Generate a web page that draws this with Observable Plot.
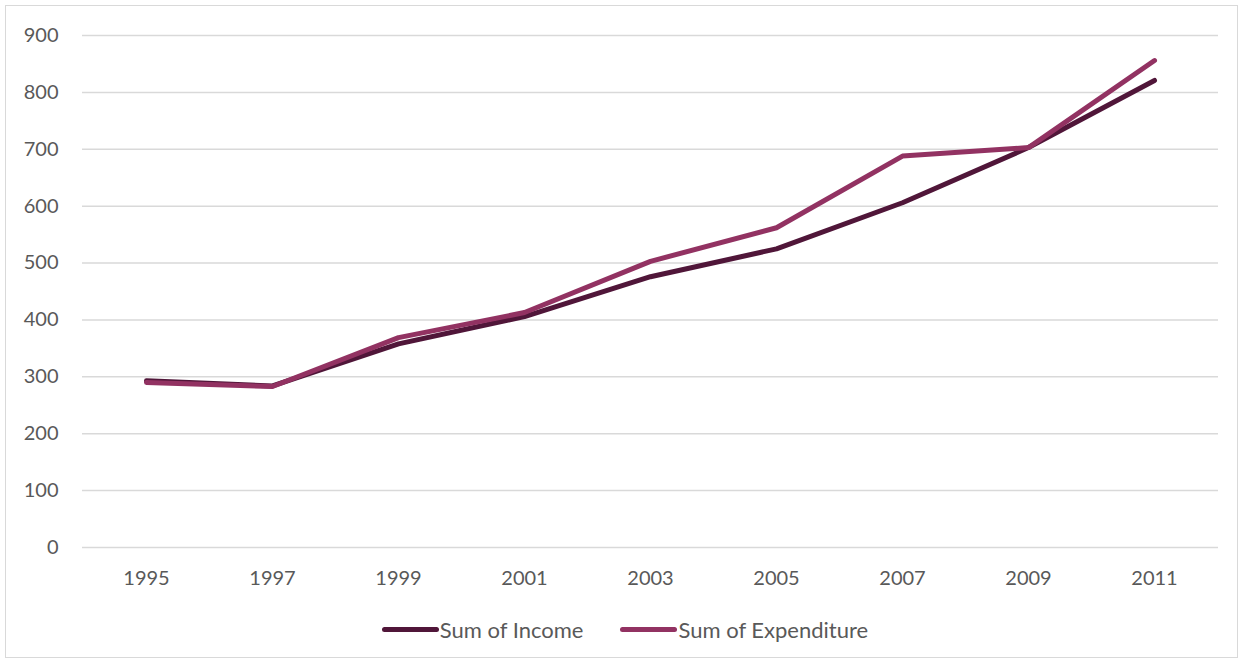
<!DOCTYPE html>
<html><head><meta charset="utf-8">
<script src="https://cdn.jsdelivr.net/npm/d3@7"></script>
<script src="https://cdn.jsdelivr.net/npm/@observablehq/plot@0.6"></script>
<style>
html,body{margin:0;padding:0;background:#fff;}
#wrap{position:relative;width:1245px;height:663px;overflow:hidden;font-family:Lato,"Open Sans",sans-serif;}
#frame{position:absolute;left:5px;top:5px;width:1233px;height:653px;border:1.5px solid #d9d9d9;box-sizing:border-box;}
#chart{position:absolute;left:0;top:0;}
#legend{position:absolute;left:0;top:616px;width:1245px;display:flex;justify-content:center;gap:37px;font-size:22px;color:#595959;padding-left:5px;box-sizing:border-box;}
.item{display:flex;align-items:center;}
.sw{display:inline-block;width:57px;height:5px;border-radius:3px;margin-right:1px;}
</style></head>
<body><div id="wrap"><div id="frame"></div><div id="chart"></div><div id="legend"></div></div>
<script>
const years = ["1995","1997","1999","2001","2003","2005","2007","2009","2011"];
const income = [293, 284, 358, 406, 476, 525, 606, 703, 821];
const expenditure = [290, 283, 369, 413, 503, 562, 688, 703, 856];
const seriesNames = ["Sum of Income", "Sum of Expenditure"];
const seriesColors = ["#501639", "#923262"];
const yTicks = [0,100,200,300,400,500,600,700,800,900];

const data = [];
years.forEach((y,i)=>{
  data.push({year:y, value:income[i], series:seriesNames[0]});
  data.push({year:y, value:expenditure[i], series:seriesNames[1]});
});

const plot = Plot.plot({
  width:1245, height:600,
  marginLeft:82, marginRight:27, marginTop:35, marginBottom:53,
  style:{fontFamily:"Lato, 'Open Sans', sans-serif", fontSize:"20px", color:"#595959", background:"transparent"},
  x:{type:"point", domain:years, padding:0.5, label:null, tickSize:0, tickPadding:22},
  y:{domain:[0,900], ticks:yTicks, label:null, tickSize:0, tickPadding:24},
  color:{domain:seriesNames, range:seriesColors},
  marks:[
    Plot.gridY(yTicks, {stroke:"#d9d9d9", strokeOpacity:1, strokeWidth:1.5}),
    Plot.axisY({ticks:yTicks, tickSize:0, tickPadding:24, fontSize:20, fill:"#595959"}),
    Plot.axisX({tickSize:0, tickPadding:23, fontSize:20, fill:"#595959"}),
    Plot.line(data, {x:"year", y:"value", z:"series", stroke:"series", strokeWidth:5, strokeLinecap:"round", strokeLinejoin:"round"})
  ]
});
document.getElementById("chart").appendChild(plot);

const leg = document.getElementById("legend");
seriesNames.forEach((n,i)=>{
  const it = document.createElement("div"); it.className="item";
  const sw = document.createElement("span"); sw.className="sw"; sw.style.background=seriesColors[i];
  const t = document.createElement("span"); t.textContent=n;
  it.appendChild(sw); it.appendChild(t); leg.appendChild(it);
});
</script></body></html>
